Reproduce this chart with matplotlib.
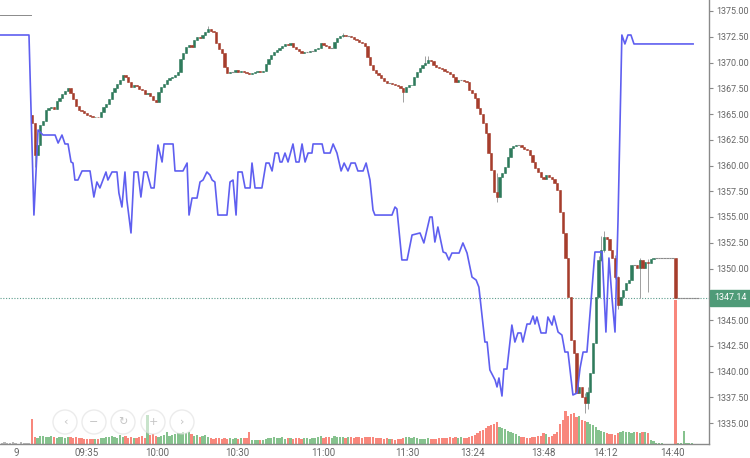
import matplotlib
matplotlib.use('Agg')
import matplotlib.pyplot as plt
from matplotlib.patches import Ellipse
import matplotlib.transforms as mtransforms
import numpy as np

plt.rcParams['font.family'] = ['Roboto', 'DejaVu Sans']

# ---------------- data ----------------
first_open = 1364.9
closes = [
    1364.1, 1361.0, 1362.0, 1363.9, 1364.3, 1365.4, 1365.6, 1365.7, 1365.5, 1366.3,
    1366.6, 1366.9, 1367.2, 1367.5, 1367.0, 1366.5, 1365.8, 1365.4, 1365.3, 1365.1,
    1364.9, 1364.8, 1364.7, 1364.75, 1364.7, 1365.2, 1365.7, 1366.0, 1366.5, 1367.1,
    1367.5, 1367.9, 1368.3, 1368.8, 1368.6, 1368.1, 1367.6, 1367.8, 1367.7, 1367.4,
    1367.3, 1366.9, 1367.05, 1366.7, 1366.4, 1366.2, 1367.1, 1367.6, 1367.9, 1368.3,
    1368.5, 1368.6, 1368.8, 1369.1, 1370.3, 1370.9, 1371.5, 1371.7, 1371.5, 1372.2,
    1372.5, 1372.4, 1372.7, 1373.0, 1373.3, 1373.1, 1373.0, 1371.9, 1371.3, 1370.9,
    1369.6, 1369.0, 1369.1, 1369.1, 1369.3, 1369.1, 1369.2, 1369.1, 1369.0, 1368.9,
    1369.0, 1369.1, 1369.2, 1369.1, 1369.2, 1369.9, 1370.3, 1370.7, 1371.0, 1371.2,
    1371.4, 1371.6, 1371.8, 1371.7, 1371.9, 1371.5, 1371.3, 1371.1, 1370.9, 1371.0,
    1371.0, 1371.1, 1371.1, 1371.3, 1371.4, 1371.9, 1371.7, 1371.6, 1371.4, 1371.4,
    1372.0, 1372.4, 1372.6, 1372.7, 1372.6, 1372.6, 1372.5, 1372.3, 1372.2, 1372.0,
    1371.9, 1371.6, 1370.5, 1369.8, 1369.3, 1369.0, 1368.8, 1368.5, 1368.2, 1368.0,
    1368.0, 1367.9, 1367.8, 1367.7, 1367.5, 1367.1, 1367.6, 1367.8, 1367.85, 1368.6,
    1369.1, 1369.5, 1369.8, 1370.0, 1370.2, 1370.1, 1369.8, 1369.6, 1369.5, 1369.4,
    1369.2, 1369.1, 1368.9, 1368.6, 1368.1, 1368.3, 1368.3, 1368.2, 1368.1, 1367.3,
    1367.0, 1366.6, 1365.6, 1365.0, 1364.1, 1363.2, 1361.2, 1359.6, 1357.4, 1356.9,
    1358.9, 1359.3, 1359.9, 1360.8, 1361.7, 1361.9, 1362.0, 1362.0, 1361.8, 1361.6,
    1361.5, 1361.0, 1360.3, 1359.8, 1359.4, 1358.9, 1358.7, 1359.1, 1358.9, 1358.7,
    1358.3, 1357.6, 1355.5, 1353.4, 1351.0, 1347.2, 1343.1, 1341.8, 1337.9, 1338.5,
    1337.5, 1336.9, 1338.0, 1339.9, 1342.8, 1347.2, 1350.8, 1351.8, 1353.1, 1352.9,
    1351.8, 1351.0, 1349.2, 1346.5, 1347.2, 1347.9, 1348.6, 1348.9, 1350.3, 1350.3,
    1350.05, 1350.8, 1350.05, 1350.6, 1350.5, 1350.9, 1351.0, 1351.0, 1351.0, 1351.0,
    1351.0, 1351.0, 1351.0, 1351.0, 1347.14, 1347.14, 1347.14, 1347.14, 1347.14, 1347.14,
    1347.14, 1347.14, 1347.14,
]

wick_idx = [1, 64, 113, 135, 143, 144, 169, 201, 202, 206, 207, 208, 212, 213, 221, 224]
wick_high = [1363.3, 1373.5, 1372.9, 1367.5, 1370.6, 1370.6, 1359.3, 1337.9, 1338.5,
             1351.2, 1353.2, 1353.6, 1351.3, 1349.3, 1351.0, 1350.9]
wick_low = [1359.9, 1373.0, 1372.5, 1366.2, 1369.9, 1370.0, 1356.5, 1336.0, 1336.4,
            1348.7, 1350.7, 1351.6, 1349.0, 1346.1, 1347.14, 1347.7]

volumes = [
    25, 7, 6, 8, 8, 7, 7, 8, 7, 6,
    7, 7, 6, 7, 7, 6, 7, 6, 6, 5,
    5, 5, 5, 5, 5, 6, 6, 7, 7, 8,
    7, 6, 9, 7, 8, 6, 7, 6, 6, 7,
    8, 6, 29, 9, 10, 8, 7, 8, 9, 12,
    8, 9, 10, 11, 11, 12, 11, 12, 10, 8,
    9, 7, 8, 9, 7, 6, 5, 6, 6, 5,
    6, 5, 6, 5, 6, 5, 6, 6, 6, 12,
    4, 4, 4, 4, 4, 5, 6, 6, 7, 6,
    6, 7, 5, 6, 6, 5, 6, 6, 5, 6,
    6, 5, 6, 6, 7, 8, 6, 7, 7, 6,
    8, 7, 7, 7, 6, 7, 7, 6, 7, 7,
    6, 7, 7, 7, 7, 6, 6, 6, 5, 6,
    5, 5, 4, 5, 5, 6, 7, 7, 6, 7,
    6, 5, 5, 5, 6, 5, 5, 5, 6, 6,
    6, 6, 7, 6, 7, 6, 7, 6, 6, 7,
    8, 9, 11, 13, 14, 16, 18, 19, 20, 22,
    17, 16, 15, 13, 12, 11, 10, 8, 7, 7,
    6, 6, 7, 7, 8, 8, 11, 10, 7, 8,
    10, 12, 20, 24, 33, 28, 30, 31, 27, 28,
    24, 23, 22, 20, 19, 17, 14, 13, 12, 11,
    10, 10, 9, 11, 12, 13, 12, 12, 11, 12,
    12, 11, 12, 12, 11, 4, 3, 1, 1, 1,
    0, 0, 0, 0, 144, 1, 1, 13, 1, 1,
    1, 0, 0,
]

pre_idx = [-11, -10, -9, -8, -7, -6, -5, -4, -3, -2, -1]
pre_vol = [1, 2, 1, 1, 2, 1, 0, 2, 1, 1, 1]

line_t = [-12, -1.1, 0.7, 2.2, 4.0, 8.4, 9.5, 10.9, 12.0, 13.1, 14.2, 14.9, 15.6, 16.7,
          18.2, 21.1, 22.5, 23.6, 24.7, 26.9, 27.6, 29.1, 30.9, 31.6, 32.7, 33.8, 34.5,
          36.0, 37.1, 38.5, 39.6, 40.7, 41.8, 43.3, 44.4, 45.8, 47.3, 48.0, 51.3, 52.0,
          54.9, 56.4, 57.1, 58.2, 60.0, 61.1, 62.2, 63.6, 64.7, 65.5, 66.5, 67.6, 70.9,
          72.0, 73.1, 74.2, 74.9, 76.4, 77.5, 79.3, 80.0, 81.1, 83.6, 85.1, 86.2, 87.3,
          88.4, 89.5, 90.2, 90.9, 92.0, 93.1, 94.9, 96.0, 97.1, 98.2, 99.3, 100.4, 101.8,
          102.2, 105.5, 106.2, 108.4, 109.5, 110.9, 112.4, 113.5, 114.9, 116.0, 117.5,
          118.5, 120.4, 121.5, 122.9, 124.0, 124.7, 130.9, 132.0, 132.7, 134.5, 136.4,
          138.2, 141.1, 142.5, 144.7, 145.5, 146.5, 147.6, 149.5, 150.5, 151.6, 152.7,
          155.3, 156.7, 158.2, 160.0, 161.5, 162.5, 164.7, 165.5, 166.5, 168.4, 169.1,
          169.8, 170.9, 171.6, 172.7, 174.5, 175.6, 176.7, 177.8, 178.5, 180.0, 181.1,
          182.2, 182.9, 183.6, 185.1, 186.9, 187.6, 189.1, 189.8, 191.3, 192.7, 193.8,
          194.9, 196.7, 198.2, 199.3, 200.4, 201.8, 204.7, 207.3, 208.7, 209.8, 210.9,
          212.0, 213.1, 214.5, 215.6, 216.7, 217.8, 218.9, 240.4]
line_v = [1372.67, 1372.67, 1355.19, 1363.45, 1362.96, 1362.96, 1362.18, 1362.96, 1362.09,
          1362.09, 1360.34, 1360.24, 1358.59, 1358.59, 1359.47, 1359.47, 1356.94, 1358.40,
          1357.82, 1359.37, 1358.59, 1359.37, 1359.37, 1357.33, 1355.97, 1359.37, 1356.65,
          1353.45, 1359.37, 1359.37, 1356.94, 1359.37, 1359.37, 1357.82, 1357.82, 1361.99,
          1360.34, 1362.09, 1362.09, 1359.47, 1359.47, 1360.24, 1355.19, 1356.84, 1356.84,
          1358.40, 1358.59, 1359.37, 1359.08, 1358.59, 1358.40, 1355.19, 1355.19, 1358.40,
          1358.59, 1355.19, 1359.37, 1359.37, 1357.82, 1357.82, 1360.24, 1357.82, 1357.82,
          1360.24, 1360.24, 1359.47, 1361.21, 1361.21, 1360.34, 1360.34, 1361.21, 1360.34,
          1362.09, 1360.34, 1360.34, 1362.09, 1360.34, 1361.21, 1361.21, 1362.09, 1362.09,
          1361.21, 1361.21, 1362.09, 1361.21, 1359.47, 1360.24, 1359.47, 1360.24, 1360.24,
          1359.47, 1359.47, 1360.24, 1358.59, 1355.68, 1355.19, 1355.19, 1355.97, 1355.78,
          1350.83, 1350.83, 1353.25, 1353.45, 1352.48, 1355.00, 1355.00, 1352.57, 1354.03,
          1351.60, 1351.50, 1350.83, 1351.50, 1351.50, 1352.48, 1351.50, 1349.17, 1348.88,
          1348.20, 1342.86, 1342.86, 1340.15, 1339.17, 1338.50, 1339.37, 1337.62, 1340.24,
          1340.24, 1344.51, 1342.86, 1343.74, 1343.74, 1342.86, 1344.61, 1344.61, 1345.39,
          1344.61, 1345.29, 1343.74, 1343.74, 1345.29, 1344.51, 1345.39, 1343.83, 1343.54,
          1341.89, 1341.89, 1337.72, 1337.91, 1340.34, 1341.89, 1341.89, 1351.60, 1351.60,
          1343.83, 1351.02, 1347.14, 1343.83, 1354.71, 1372.67, 1371.80, 1372.67, 1372.67,
          1371.80, 1371.80]

tick_pos = [-5.8, 20.0, 45.5, 74.5, 105.8, 136.4, 160.0, 185.8, 208.4, 232.7]
tick_labels = ['9', '09:35', '10:00', '10:30', '11:00', '11:30', '13:24', '13:48', '14:12', '14:40']
price_ticks = [1335.0, 1337.5, 1340.0, 1342.5, 1345.0, 1347.5, 1350.0, 1352.5, 1355.0,
               1357.5, 1360.0, 1362.5, 1365.0, 1367.5, 1370.0, 1372.5, 1375.0]
last_price = 1347.14

# ---------------- style ----------------
UP = '#2f7b5c'
DOWN = '#a63d2c'
DOJI = '#8c8c8c'
VOL_UP = '#86c28e'
VOL_DOWN = '#f8877c'
VOL_PRE = '#b8b8b8'
LINE = '#5f5ff0'
AXIS = '#8a8a8a'
TXT = '#666666'

W, H = 750, 458
fig = plt.figure(figsize=(W / 100, H / 100), dpi=100)
fig.patch.set_facecolor('white')
pos = [0, (H - 444) / H, 709 / W, 444 / H]
ax = fig.add_axes(pos)
axv = fig.add_axes(pos, sharex=ax)
axv.set_zorder(1)
ax.set_zorder(2)
ax.patch.set_visible(False)

x = np.arange(len(closes))
c = np.array(closes)
o = np.array([first_open] + closes[:-1])
hi = np.maximum(o, c)
lo = np.minimum(o, c)
for k, i in enumerate(wick_idx):
    hi[i] = max(hi[i], wick_high[k])
    lo[i] = min(lo[i], wick_low[k])
up = c > o
down = c < o
flat = c == o

# volume
vol = np.array(volumes)
vcol = [VOL_UP if (cc >= oo) else VOL_DOWN for cc, oo in zip(c, o)]
axv.bar(x, vol, width=0.8, color=vcol, linewidth=0)
axv.bar(pre_idx, pre_vol, width=0.8, color=VOL_PRE, linewidth=0)
axv.set_ylim(0, 444)
axv.axis('off')

# candles
ax.vlines(x, lo, hi, color='#a0a0a0', lw=0.7, zorder=3)
ax.bar(x[up], (c - o)[up], bottom=o[up], width=0.85, color=UP, edgecolor=UP, linewidth=0.4, zorder=4)
ax.bar(x[down], (o - c)[down], bottom=c[down], width=0.85, color=DOWN, edgecolor=DOWN, linewidth=0.4, zorder=4)
ax.hlines(c[flat], x[flat] - 0.5, x[flat] + 0.5, color=DOJI, lw=0.8, zorder=4)

# blue line
ax.plot(line_t, line_v, color=LINE, lw=1.2, zorder=5)

# last price line
ax.axhline(last_price, color='#5c9c8c', lw=0.8, ls=(0, (1, 1.5)), zorder=1)

ax.set_xlim(-32 / 2.75, (709 - 32) / 2.75)
ax.set_ylim(1375 - (444 - 11) / 10.3, 1375 + 11 / 10.3)

ax.yaxis.tick_right()
ax.set_yticks(price_ticks)
ax.set_yticklabels(['%.2f' % v for v in price_ticks])
ax.set_xticks(tick_pos)
ax.set_xticklabels(tick_labels)
ax.tick_params(axis='y', colors=AXIS, labelcolor=TXT, length=3, width=0.8, labelsize=6.5, pad=2)
ax.tick_params(axis='x', length=0, labelcolor=TXT, labelsize=7, pad=3)
for s in ['top', 'left']:
    ax.spines[s].set_visible(False)
for s in ['right', 'bottom']:
    ax.spines[s].set_color(AXIS)
    ax.spines[s].set_linewidth(1.0)

# last price label box
trans = mtransforms.blended_transform_factory(ax.transAxes, ax.transData)
ax.annotate('%.2f' % last_price, xy=(1, last_price), xycoords=trans,
            xytext=(3.6, 0), textcoords='offset points', ha='left', va='center',
            color='white', fontsize=6.5,
            bbox=dict(boxstyle='square,pad=0.4', fc='#4f9b78', ec='#4f9b78'),
            zorder=10, annotation_clip=False)

# small legend stub top-left
ax.plot([0, 31 / 709], [1 - 15 / 444, 1 - 15 / 444], transform=ax.transAxes,
        color='#8a8a8a', lw=0.7, zorder=6)

# navigation buttons overlay
btn_x = [65, 94, 123, 153, 182]
btn_s = ['\u2039', '\u2212', '\u21bb', '+', '\u203a']
for bx, bs in zip(btn_x, btn_s):
    e = Ellipse((bx / W, 1 - 422 / H), 24 / W, 24 / H, transform=fig.transFigure,
                facecolor='white', edgecolor='#dcdcdc', lw=1.0, alpha=0.55, zorder=20)
    fig.add_artist(e)
    fig.text(bx / W, 1 - 422 / H, bs, ha='center', va='center', fontsize=8,
             color='#c4c4c4', zorder=21, family=['DejaVu Sans'])

fig.savefig('out.png', dpi=100, facecolor='white')
